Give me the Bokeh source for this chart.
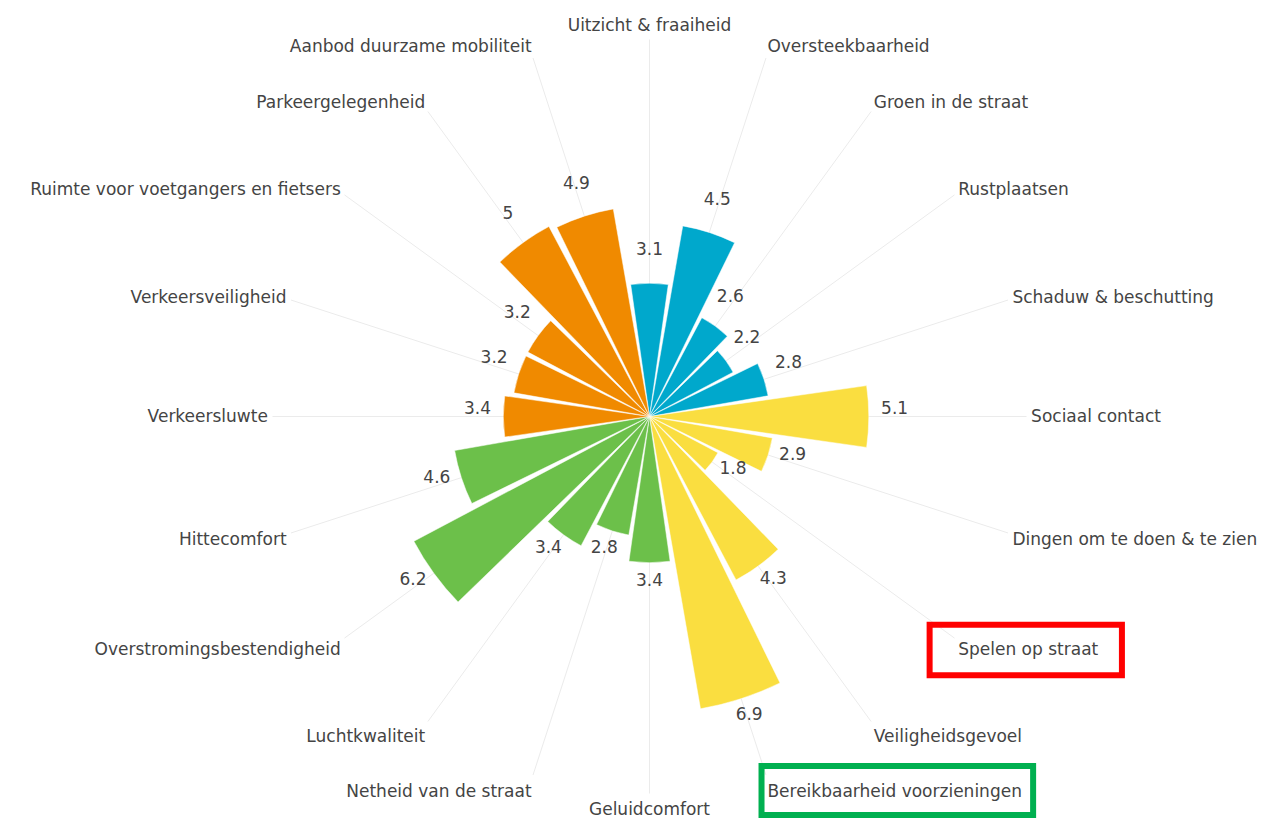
import numpy as np
from bokeh.plotting import figure
from bokeh.models import Range1d, ColumnDataSource
from bokeh.core.properties import value
from bokeh.embed import file_html
from bokeh.resources import INLINE

# ---------------- data ----------------
categories = [
    "Uitzicht & fraaiheid", "Oversteekbaarheid", "Groen in de straat", "Rustplaatsen",
    "Schaduw & beschutting", "Sociaal contact", "Dingen om te doen & te zien",
    "Spelen op straat", "Veiligheidsgevoel", "Bereikbaarheid voorzieningen",
    "Geluidcomfort", "Netheid van de straat", "Luchtkwaliteit",
    "Overstromingsbestendigheid", "Hittecomfort", "Verkeersluwte",
    "Verkeersveiligheid", "Ruimte voor voetgangers en fietsers",
    "Parkeergelegenheid", "Aanbod duurzame mobiliteit",
]
scores = [3.1, 4.5, 2.6, 2.2, 2.8, 5.1, 2.9, 1.8, 4.3, 6.9,
          3.4, 2.8, 3.4, 6.2, 4.6, 3.4, 3.2, 3.2, 5, 4.9]
groups = ["blauw"] * 5 + ["geel"] * 5 + ["groen"] * 5 + ["oranje"] * 5
highlight_red = ["Spelen op straat"]
highlight_green = ["Bereikbaarheid voorzieningen"]

# ---------------- style ----------------
group_colors = {"blauw": "#00A8CC", "geel": "#FADE40", "groen": "#6CC04A", "oranje": "#F08A00"}
W, H = 1263, 820
CX, CY = 649, 416          # polar centre in figure pixels
K = 43.0                   # pixels per score unit
R_OUT = 377 / K            # length of angular grid lines
FS = 17
PAD = 4.6
MID = 6.2                  # cap-centre height above baseline (px)
FONT = value("DejaVu Sans")
TXT = "#444444"
BAR_FRAC = 0.9

n = len(categories)
theta = np.deg2rad(np.arange(n) * 360.0 / n)   # clockwise from north
s, c = np.sin(theta), np.cos(theta)
half = np.deg2rad(360.0 / n) * BAR_FRAC / 2

p = figure(width=W, height=H,
           x_range=Range1d(-CX / K, (W - CX) / K),
           y_range=Range1d(-(H - CY) / K, CY / K),
           output_backend="svg", toolbar_location=None,
           x_axis_type=None, y_axis_type=None,
           min_border=0, outline_line_color=None,
           background_fill_color="white", border_fill_color="white")

# angular grid lines
p.segment(x0=np.zeros(n), y0=np.zeros(n), x1=R_OUT * s, y1=R_OUT * c,
          line_color="#ebebeb", line_width=1)

# bars
bars = ColumnDataSource(dict(
    r=scores,
    start=np.pi / 2 - theta - half,
    end=np.pi / 2 - theta + half,
    color=[group_colors[g] for g in groups],
))
p.wedge(x=0, y=0, radius="r", start_angle="start", end_angle="end",
        direction="anticlock", fill_color="color", line_color="white",
        line_width=0.5, source=bars)

# value labels (centre of label 9.4px above the point at r = score + 0.6)
vr = np.array(scores) + 0.6
p.text(x=vr * s, y=vr * c + 9.4 / K, text=[f"{v:g}" for v in scores],
       text_align="center", text_baseline="middle",
       text_font=FONT, text_font_size=f"{FS}px", text_color=TXT)

# category labels (outside the circle)
xend_px = R_OUT * K * s
yend_px = -R_OUT * K * c              # screen direction (down positive)
lab_x_px = xend_px + s * PAD
ff = np.where(c > 1e-9, 0.2, 1.0)
lab_base_px = yend_px - c * (PAD + FS * ff) + np.abs(s) * FS * 0.35
lab_mid_px = lab_base_px - MID
aligns = ["center" if abs(si) < 0.1 else ("left" if si > 0 else "right") for si in s]
labels = ColumnDataSource(dict(x=lab_x_px / K, y=-lab_mid_px / K,
                               text=categories, align=aligns))
p.text(x="x", y="y", text="text", text_align="align", text_baseline="middle",
       text_font=FONT, text_font_size=f"{FS}px", text_color=TXT, source=labels)

# highlight boxes around two category labels
def box(name, dl, dr, dt, db, color):
    i = categories.index(name)
    ax, bl = lab_x_px[i], lab_base_px[i]
    p.quad(left=[(ax + dl) / K], right=[(ax + dr) / K],
           top=[-(bl + dt) / K], bottom=[-(bl + db) / K],
           fill_color=None, line_color=color, line_width=6, line_join="miter")

for nm in highlight_red:
    box(nm, -28.6, 163.7, -30.8, 19.6, "#FF0000")
for nm in highlight_green:
    box(nm, -5.9, 265.7, -31.4, 17.6, "#00B050")

open("out.html", "w").write(file_html(p, INLINE))
